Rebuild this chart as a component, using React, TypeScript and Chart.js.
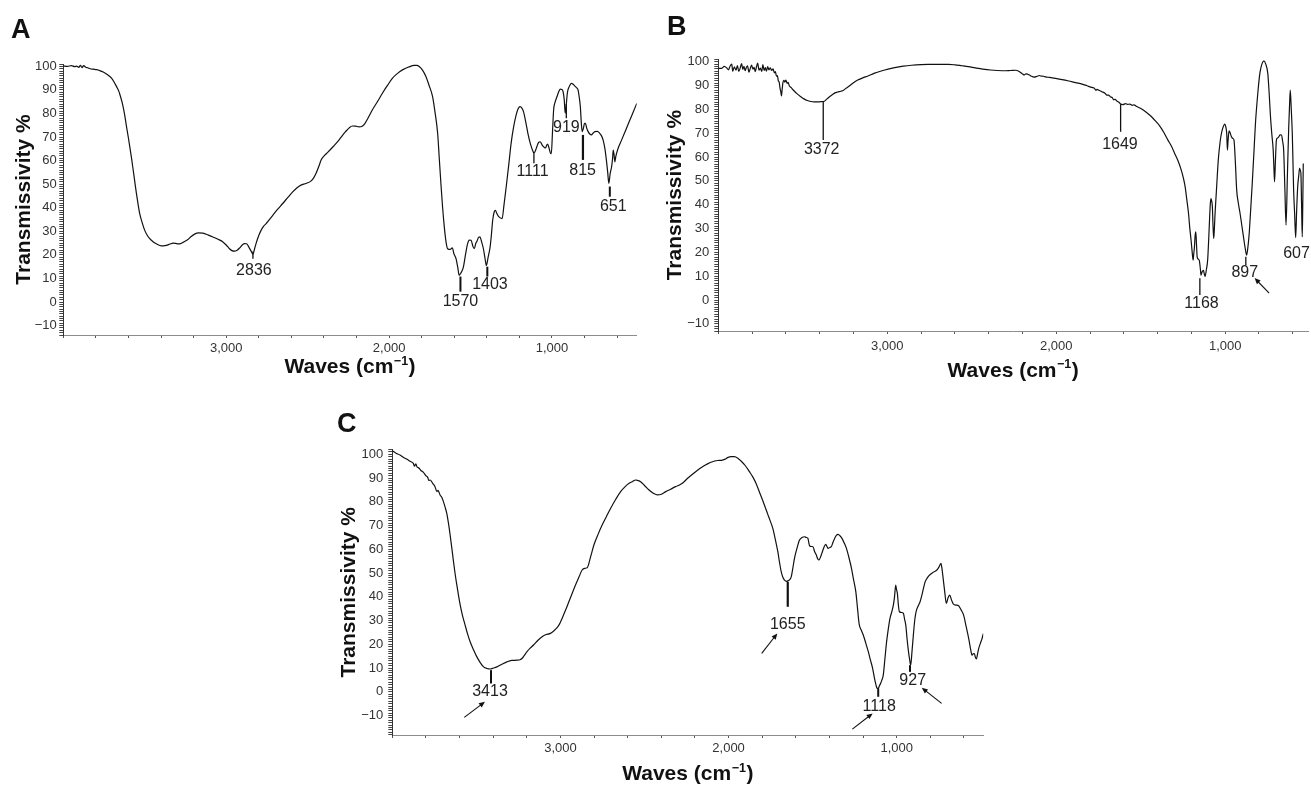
import React, { useEffect, useRef } from 'react';
import { Chart, registerables } from 'chart.js';

Chart.register(...registerables);

const FONT = '"Liberation Sans", Arial, Helvetica, sans-serif';

// ---------- Spectrum A: [wavenumber cm-1, transmissivity %] ----------
const aSpectrum: [number, number][] = [
  [4000, 100.2], [3975, 100.0], [3950, 100.3], [3930, 99.9], [3918, 100.1], [3905, 99.6],
  [3895, 100.4], [3885, 99.5], [3875, 100.3], [3862, 99.6], [3850, 99.4], [3835, 99.0],
  [3816, 98.8], [3795, 98.6], [3776, 98.2], [3755, 97.6], [3735, 96.8], [3720, 96.0],
  [3704, 95.0], [3690, 93.6], [3673, 91.4], [3660, 89.6], [3649, 87.2], [3640, 85.0],
  [3629, 81.5], [3620, 78.0], [3612, 74.4], [3600, 69.5], [3592, 65.9], [3580, 60.5],
  [3571, 56], [3561, 51], [3551, 46], [3541, 41.5], [3531, 37.5], [3515, 33.5],
  [3500, 30.4], [3480, 27.8], [3459, 26.2], [3435, 24.9], [3408, 24.0], [3385, 23.8],
  [3367, 24.0], [3345, 24.6], [3327, 25.0], [3310, 24.9], [3296, 24.7], [3280, 24.8],
  [3265, 25.3], [3250, 25.9], [3235, 26.5], [3215, 27.8], [3194, 28.8], [3170, 29.3],
  [3143, 29.2], [3110, 28.4], [3082, 27.6], [3050, 26.6], [3020, 25.5], [3000, 24.2],
  [2980, 22.6], [2965, 21.8], [2949, 21.6], [2933, 22.0], [2918, 22.9], [2900, 24.3],
  [2888, 24.8], [2875, 24.7], [2860, 23.2], [2847, 21.6], [2836, 20.3], [2825, 22.8],
  [2816, 25.0], [2800, 28.2], [2786, 30.4], [2770, 32.2], [2755, 33.3], [2735, 35.0],
  [2714, 36.8], [2685, 39.3], [2653, 41.8], [2620, 44.5], [2592, 46.7], [2565, 48.5],
  [2541, 49.6], [2510, 50.3], [2480, 51.3], [2462, 52.8], [2449, 54.5], [2430, 57.8],
  [2418, 60.2], [2395, 62.3], [2377, 63.5], [2340, 66.2], [2308, 68.7], [2285, 70.8],
  [2267, 72.3], [2245, 73.9], [2226, 74.7], [2205, 74.6], [2185, 74.3], [2165, 74.6],
  [2150, 75.6], [2130, 78.0], [2103, 81.5], [2070, 85.2], [2041, 88.6], [2010, 91.9],
  [1979, 95.0], [1950, 96.9], [1918, 98.5], [1880, 99.7], [1846, 100.4], [1830, 100.4],
  [1815, 99.9], [1795, 98.4], [1774, 95.7], [1755, 92.0], [1733, 87.2], [1718, 80.5],
  [1702, 71.6], [1692, 61.0], [1682, 50.3], [1672, 40.5], [1661, 31.8], [1650, 25.3],
  [1641, 22.6], [1625, 22.3], [1612, 23.0], [1602, 20.5], [1589, 18.4], [1578, 14.5],
  [1570, 11.3], [1560, 12.2], [1544, 14.8], [1530, 20.5], [1518, 24.8], [1507, 26.3],
  [1497, 26.2], [1485, 23.5], [1477, 22.6], [1468, 24.8], [1460, 25.9], [1450, 27.5],
  [1442, 27.6], [1432, 25.5], [1421, 22.6], [1410, 18.0], [1403, 15.5], [1392, 19.0],
  [1380, 23.3], [1372, 28.5], [1364, 34.7], [1355, 38.2], [1347, 38.9], [1340, 37.8],
  [1333, 36.8], [1320, 35.8], [1306, 35.4], [1295, 41.0], [1281, 48.9], [1265, 58.5],
  [1251, 67.3], [1235, 74.5], [1220, 79.4], [1208, 82.0], [1195, 82.9], [1185, 82.3],
  [1175, 80.8], [1160, 76.0], [1148, 71.6], [1132, 67.0], [1117, 64.0], [1111, 63.2],
  [1100, 64.5], [1093, 65.9], [1083, 67.6], [1072, 68.0], [1062, 66.8], [1052, 65.9],
  [1045, 65.5], [1039, 65.4], [1033, 66.5], [1027, 67.0], [1021, 66.0], [1015, 64.5],
  [1008, 63.0], [1004, 63.0], [997, 72.0], [990, 81.5], [980, 85.0], [969, 87.2],
  [958, 89.3], [949, 90.3], [940, 90.2], [932, 89.3], [925, 86.0], [919, 80.1],
  [912, 84.0], [906, 88.5], [902, 90.0], [890, 92.0], [881, 92.8], [870, 92.4],
  [861, 91.7], [850, 91.0], [840, 90.0], [833, 87.0], [826, 82.9], [820, 76.0],
  [815, 72.3], [808, 73.5], [800, 75.8], [795, 75.8], [787, 73.8], [778, 72.3],
  [768, 71.3], [758, 70.9], [748, 71.6], [737, 72.3], [722, 72.4], [707, 71.6],
  [696, 70.5], [686, 68.7], [675, 65.0], [666, 60.2], [658, 55.0], [651, 50.3],
  [643, 54.5], [634, 57.4], [628, 61.0], [624, 64.5], [619, 62.5], [614, 59.5],
  [609, 61.5], [604, 63.0], [590, 66.0], [573, 68.7], [550, 72.5], [522, 77.2],
  [500, 80.8], [480, 84.3],
];

// ---------- Spectrum B ----------
const bSpectrum: [number, number][] = [
  [4000, 97.2], [3980, 97.2], [3965, 98.0], [3950, 97.4], [3940, 96.6], [3930, 98.2],
  [3920, 99.0], [3915, 96.0], [3905, 97.8], [3895, 96.4], [3887, 98.4], [3879, 95.9],
  [3871, 97.2], [3862, 99.2], [3855, 96.8], [3848, 98.0], [3841, 96.2], [3834, 97.6],
  [3827, 98.3], [3819, 95.6], [3811, 97.1], [3803, 98.6], [3795, 96.9], [3788, 97.6],
  [3781, 95.8], [3774, 97.9], [3767, 99.4], [3759, 96.4], [3751, 97.3], [3743, 95.9],
  [3736, 98.8], [3729, 96.3], [3722, 97.5], [3715, 96.0], [3708, 97.9], [3700, 96.6],
  [3692, 97.4], [3684, 96.3], [3676, 97.0], [3668, 95.3], [3662, 95.8], [3656, 93.9],
  [3650, 94.2], [3645, 92.0], [3640, 91.5], [3635, 89.0], [3630, 87.3], [3626, 85.6],
  [3622, 88.5], [3618, 91.0], [3612, 92.2], [3606, 91.4], [3600, 92.3], [3593, 90.9],
  [3587, 91.3], [3580, 89.9], [3570, 89.2], [3555, 88.0], [3533, 86.5], [3513, 85.4],
  [3493, 84.4], [3473, 83.7], [3453, 83.3], [3434, 83.1], [3414, 83.1], [3394, 83.2],
  [3372, 83.4], [3360, 84.2], [3345, 85.1], [3324, 86.2], [3310, 86.9], [3294, 87.3],
  [3275, 87.6], [3259, 88.0], [3245, 88.8], [3225, 89.8], [3200, 91.2], [3175, 92.3],
  [3145, 93.2], [3115, 94.0], [3075, 95.2], [3036, 96.1], [2995, 96.9], [2956, 97.5],
  [2905, 98.1], [2857, 98.5], [2800, 98.8], [2758, 98.9], [2700, 98.9], [2638, 98.9],
  [2600, 98.7], [2559, 98.3], [2520, 97.9], [2479, 97.4], [2435, 96.9], [2390, 96.5],
  [2317, 96.2], [2270, 96.3], [2239, 96.4], [2222, 96.0], [2209, 95.4], [2198, 94.8],
  [2190, 94.4], [2180, 94.9], [2170, 94.8], [2150, 94.0], [2131, 93.5], [2115, 93.8],
  [2100, 94.2], [2092, 94.0], [2075, 93.9], [2063, 93.6], [2040, 93.4], [2004, 93.0],
  [1965, 92.5], [1926, 91.9], [1885, 91.2], [1847, 90.6], [1818, 89.9], [1789, 89.2],
  [1775, 88.9], [1765, 88.0], [1759, 88.4], [1745, 87.9], [1730, 87.4], [1712, 86.8],
  [1700, 86.0], [1691, 86.0], [1680, 85.3], [1668, 84.9], [1660, 84.0], [1652, 84.2],
  [1640, 83.4], [1628, 82.9], [1619, 82.2], [1605, 82.0], [1590, 82.4], [1578, 82.1],
  [1564, 82.2], [1550, 81.7], [1540, 81.9], [1524, 81.2], [1505, 80.6], [1485, 79.7],
  [1460, 78.4], [1436, 76.9], [1412, 75.1], [1387, 73.0], [1363, 70.3], [1339, 67.1],
  [1318, 64.5], [1299, 61.5], [1280, 58.5], [1260, 54.5], [1247, 51.0], [1237, 47.5],
  [1227, 42.0], [1217, 36.3], [1210, 30.5], [1202, 25.1], [1196, 20.5], [1190, 16.7],
  [1186, 19.5], [1182, 22.3], [1178, 27.0], [1174, 28.6], [1170, 23.5], [1166, 18.1],
  [1160, 17.2], [1153, 16.5], [1147, 13.0], [1143, 10.4], [1136, 12.0], [1129, 12.5],
  [1124, 11.0], [1119, 9.9], [1112, 12.5], [1104, 16.7], [1098, 25.0], [1092, 34.9],
  [1088, 40.5], [1084, 42.6], [1080, 41.5], [1076, 39.1], [1072, 31.0], [1068, 25.8],
  [1064, 30.0], [1061, 34.9], [1057, 40.0], [1053, 44.7], [1047, 52.0], [1041, 58.7],
  [1034, 64.0], [1026, 68.5], [1015, 72.0], [1002, 73.8], [996, 72.5], [991, 69.9],
  [987, 62.9], [983, 67.0], [977, 71.0], [970, 70.0], [963, 68.5], [955, 67.8],
  [948, 67.1], [940, 58.0], [932, 46.1], [922, 40.5], [912, 36.3], [900, 30.5],
  [889, 25.1], [880, 21.0], [873, 18.8], [866, 22.0], [858, 27.9], [850, 37.0],
  [840, 48.9], [830, 62.0], [821, 74.1], [808, 86.0], [795, 95.1], [783, 99.0],
  [771, 100.3], [760, 99.0], [748, 95.1], [740, 87.0], [732, 76.9], [724, 69.5],
  [716, 62.9], [712, 56.0], [708, 49.6], [703, 58.0], [697, 67.1], [690, 68.0],
  [683, 68.5], [675, 69.3], [667, 69.2], [660, 66.5], [654, 62.9], [647, 47.0],
  [640, 31.4], [632, 52.0], [624, 72.7], [619, 82.0], [615, 88.1], [609, 80.0],
  [603, 69.9], [599, 58.0], [595, 46.1], [589, 36.0], [583, 26.2], [577, 38.0],
  [571, 47.5], [565, 52.0], [560, 55.2], [556, 54.5], [552, 53.1], [548, 40.0],
  [544, 26.5], [541, 40.0], [538, 57.3],
];

// ---------- Spectrum C ----------
const cSpectrum: [number, number][] = [
  [4000, 101.5], [3980, 100.6], [3954, 99.7], [3935, 98.8], [3915, 98.0], [3895, 97.1],
  [3875, 96.2], [3868, 95.0], [3860, 96.0], [3852, 94.6], [3845, 94.4], [3830, 93.2],
  [3815, 92.4], [3800, 91.0], [3790, 90.4], [3783, 89.0], [3775, 89.2], [3760, 87.8],
  [3746, 86.4], [3735, 84.3], [3728, 84.8], [3716, 82.9], [3705, 81.8], [3696, 80.1],
  [3686, 77.8], [3676, 75.1], [3666, 71.0], [3656, 66.0], [3646, 60.5], [3636, 54.8],
  [3626, 49.5], [3616, 44.9], [3606, 40.5], [3596, 36.5], [3582, 32.0], [3567, 28.1],
  [3552, 24.3], [3537, 21.1], [3517, 17.7], [3497, 14.7], [3477, 12.3], [3457, 10.5],
  [3437, 9.8], [3418, 9.6], [3398, 10.0], [3378, 10.5], [3348, 11.6], [3318, 12.6],
  [3290, 13.2], [3259, 13.3], [3240, 13.5], [3229, 14.0], [3215, 15.3], [3199, 16.9],
  [3180, 18.4], [3160, 19.7], [3135, 21.6], [3109, 23.2], [3085, 24.1], [3060, 24.6],
  [3040, 25.6], [3020, 27.0], [3005, 28.6], [2990, 30.9], [2970, 34.3], [2950, 37.9],
  [2930, 41.5], [2911, 44.9], [2890, 48.3], [2871, 51.3], [2855, 52.0], [2841, 52.2],
  [2820, 57.0], [2801, 61.8], [2775, 66.5], [2752, 70.2], [2725, 74.0], [2702, 77.2],
  [2670, 81.2], [2642, 84.3], [2615, 86.4], [2592, 87.8], [2570, 88.6], [2553, 89.2],
  [2540, 89.0], [2523, 88.5], [2500, 86.9], [2473, 85.0], [2445, 83.5], [2423, 82.9],
  [2400, 83.2], [2374, 84.3], [2345, 85.3], [2315, 86.4], [2295, 87.0], [2275, 87.8],
  [2245, 89.8], [2215, 91.6], [2185, 93.3], [2155, 94.8], [2125, 96.0], [2096, 96.9],
  [2066, 97.4], [2036, 97.6], [2020, 98.0], [2006, 98.6], [1985, 99.0], [1966, 99.0],
  [1945, 98.4], [1926, 97.2], [1900, 95.2], [1876, 92.7], [1856, 90.5], [1837, 87.8],
  [1812, 83.3], [1787, 78.7], [1762, 73.8], [1737, 68.8], [1722, 64.2], [1707, 59.0],
  [1697, 54.5], [1687, 50.6], [1677, 48.2], [1667, 47.0], [1655, 46.5], [1647, 46.7],
  [1637, 47.2], [1627, 48.5], [1618, 52.0], [1608, 56.2], [1593, 60.5], [1578, 63.9],
  [1563, 65.0], [1548, 65.3], [1538, 65.0], [1528, 64.6], [1522, 62.5], [1518, 61.5],
  [1508, 61.2], [1498, 61.1], [1488, 59.0], [1478, 57.6], [1470, 56.0], [1462, 55.5],
  [1452, 57.0], [1442, 59.0], [1432, 61.0], [1422, 62.1], [1415, 61.2], [1408, 60.4],
  [1398, 60.8], [1389, 61.1], [1379, 63.0], [1369, 64.6], [1359, 65.9], [1349, 66.3],
  [1336, 65.6], [1323, 64.3], [1311, 62.5], [1299, 60.4], [1284, 56.5], [1269, 52.0],
  [1256, 47.0], [1243, 42.1], [1233, 35.0], [1223, 28.4], [1211, 26.0], [1199, 23.9],
  [1184, 20.5], [1169, 16.9], [1156, 13.3], [1143, 9.8], [1133, 6.0], [1124, 3.1],
  [1118, 1.6], [1110, 1.4], [1103, 2.5], [1096, 3.5], [1088, 5.0], [1080, 7.0],
  [1070, 14.0], [1060, 21.1], [1050, 26.5], [1040, 30.9], [1030, 33.5], [1020, 36.5],
  [1013, 40.0], [1006, 44.9], [1001, 43.0], [996, 41.4], [990, 36.5], [984, 33.7],
  [972, 33.4], [960, 33.0], [953, 30.5], [946, 28.1], [938, 22.0], [930, 16.9],
  [923, 13.5], [917, 11.2], [909, 17.0], [901, 23.9], [893, 30.0], [885, 33.7],
  [873, 36.0], [861, 37.9], [846, 42.0], [831, 46.3], [816, 48.2], [801, 49.4],
  [781, 50.4], [761, 51.3], [749, 52.5], [737, 54.1], [731, 52.0], [725, 48.5],
  [715, 42.5], [705, 37.2], [695, 39.5], [685, 40.7], [673, 38.5], [661, 36.8],
  [647, 36.5], [632, 36.2], [617, 34.5], [602, 32.3], [587, 27.5], [572, 22.5],
  [562, 18.5], [552, 15.4], [545, 16.0], [538, 16.1], [532, 14.5], [526, 13.8],
  [519, 16.0], [512, 18.3], [502, 20.5], [492, 22.5], [485, 24.5],
];

// ---------- Peak annotations: text, marker wavenumber, marker from/to %T, label wavenumber/%T ----------
type Peak = { text: string; x: number; y1: number; y2: number; lx: number; ly: number; w?: number };
type Arrow = [number, number, number, number]; // fromX, fromY, toX, toY (data units)

const aPeaks: Peak[] = [
  { text: '2836', x: 2836, y1: 21.4, y2: 18.4, lx: 2830, ly: 13.4 },
  { text: '1570', x: 1562, y1: 10.8, y2: 4.4, lx: 1562, ly: 0.2, w: 2 },
  { text: '1403', x: 1397, y1: 15.0, y2: 10.8, lx: 1381, ly: 7.5, w: 2 },
  { text: '1111', x: 1111, y1: 63.1, y2: 58.9, lx: 1119, ly: 55.3 },
  { text: '919', x: 912, y1: 84.0, y2: 78.0, lx: 912, ly: 74.0 },
  { text: '815', x: 810, y1: 70.9, y2: 60.3, lx: 812, ly: 55.7, w: 2.2 },
  { text: '651', x: 645, y1: 49.0, y2: 44.7, lx: 624, ly: 40.5, w: 2 },
];
const aArrows: Arrow[] = [];

const bPeaks: Peak[] = [
  { text: '3372', x: 3379, y1: 83.5, y2: 67.1, lx: 3388, ly: 63.2 },
  { text: '1649', x: 1619, y1: 82.2, y2: 70.6, lx: 1623, ly: 65.3 },
  { text: '1168', x: 1150, y1: 9.1, y2: 2.1, lx: 1140, ly: -1.4 },
  { text: '897', x: 878, y1: 18.2, y2: 14.7, lx: 884, ly: 11.5 },
  { text: '607', x: 578, y1: 19.3, y2: 19.3, lx: 578, ly: 19.3, w: 0 },
];
const bArrows: Arrow[] = [[740, 2.9, 826, 9.2]];

const cPeaks: Peak[] = [
  { text: '3413', x: 3413, y1: 9.1, y2: 3.5, lx: 3419, ly: 0, w: 2 },
  { text: '1655', x: 1648, y1: 46.3, y2: 35.8, lx: 1648, ly: 28.4, w: 2.2 },
  { text: '1118', x: 1110, y1: 1.4, y2: -2.1, lx: 1104, ly: -6.3, w: 2 },
  { text: '927', x: 921, y1: 11.2, y2: 8.4, lx: 905, ly: 4.6, w: 2 },
];
const cArrows: Arrow[] = [
  [3572, -10.8, 3449, -4.2],
  [1803, 16.2, 1710, 24.6],
  [1264, -15.7, 1143, -9.1],
  [733, -4.9, 851, 1.7],
];

type PanelCfg = {
  letter: string;
  data: [number, number][];
  peaks: Peak[];
  arrows: Arrow[];
  left: number; top: number; width: number; height: number;
  xMin: number; yMin: number; yMax: number;
  padTop: number; padRight: number; yAxisW: number; xAxisH: number;
  yTitlePad: number; yTickPad: number; xTickPad: number; xTitleY: number;
  letterX: number; letterY: number;
};

const panels: PanelCfg[] = [
  {
    letter: 'A', data: aSpectrum, peaks: aPeaks, arrows: aArrows,
    left: 0, top: 0, width: 650, height: 385,
    xMin: 480, yMin: -14, yMax: 101,
    padTop: 64, padRight: 13.3, yAxisW: 63.3, xAxisH: 50,
    yTitlePad: 11.4, yTickPad: 2.6, xTickPad: 2.5, xTitleY: 365.5,
    letterX: 11, letterY: 38,
  },
  {
    letter: 'B', data: bSpectrum, peaks: bPeaks, arrows: bArrows,
    left: 655, top: 0, width: 656, height: 385,
    xMin: 510, yMin: -13, yMax: 101,
    padTop: 59.3, padRight: 3, yAxisW: 63.3, xAxisH: 54,
    yTitlePad: 7.9, yTickPad: 5, xTickPad: 4.9, xTitleY: 369,
    letterX: 12, letterY: 35,
  },
  {
    letter: 'C', data: cSpectrum, peaks: cPeaks, arrows: cArrows,
    left: 320, top: 390, width: 680, height: 395,
    xMin: 485, yMin: -18.2, yMax: 102,
    padTop: 59.6, padRight: 16.7, yAxisW: 72.3, xAxisH: 50,
    yTitlePad: 16.4, yTickPad: 5, xTickPad: 2.5, xTitleY: 382.5,
    letterX: 17, letterY: 41.7,
  },
];

function makePlugin(cfg: PanelCfg) {
  return {
    id: 'notes' + cfg.letter,
    afterDatasetsDraw(chart: any) {
      const { ctx, chartArea } = chart;
      const xs = chart.scales.x;
      const ys = chart.scales.y;
      ctx.save();
      ctx.strokeStyle = '#111';
      ctx.fillStyle = '#222';
      // peak markers + labels
      for (const p of cfg.peaks) {
        const px = xs.getPixelForValue(p.x);
        const w = p.w === undefined ? 1.3 : p.w;
        if (w > 0) {
          ctx.lineWidth = w;
          ctx.beginPath();
          ctx.moveTo(px, ys.getPixelForValue(p.y1));
          ctx.lineTo(px, ys.getPixelForValue(p.y2));
          ctx.stroke();
        }
        ctx.font = `16px ${FONT}`;
        ctx.textAlign = 'center';
        ctx.textBaseline = 'middle';
        ctx.fillText(p.text, xs.getPixelForValue(p.lx), ys.getPixelForValue(p.ly));
      }
      // arrows
      for (const a of cfg.arrows) {
        const x1 = xs.getPixelForValue(a[0]);
        const y1 = ys.getPixelForValue(a[1]);
        const x2 = xs.getPixelForValue(a[2]);
        const y2 = ys.getPixelForValue(a[3]);
        const ang = Math.atan2(y2 - y1, x2 - x1);
        ctx.lineWidth = 1.1;
        ctx.beginPath();
        ctx.moveTo(x1, y1);
        ctx.lineTo(x2 - 3 * Math.cos(ang), y2 - 3 * Math.sin(ang));
        ctx.stroke();
        const L = 6, W = 2.6;
        ctx.beginPath();
        ctx.moveTo(x2, y2);
        ctx.lineTo(x2 - L * Math.cos(ang) + W * Math.sin(ang), y2 - L * Math.sin(ang) - W * Math.cos(ang));
        ctx.lineTo(x2 - L * Math.cos(ang) - W * Math.sin(ang), y2 - L * Math.sin(ang) + W * Math.cos(ang));
        ctx.closePath();
        ctx.fillStyle = '#111';
        ctx.fill();
        ctx.fillStyle = '#222';
      }
      // x axis title with superscript
      const cx = (chartArea.left + chartArea.right) / 2;
      const big = `bold 21px ${FONT}`;
      const small = `bold 12.5px ${FONT}`;
      ctx.font = big;
      const w1 = ctx.measureText('Waves (cm').width;
      const w3 = ctx.measureText(')').width;
      ctx.font = small;
      const w2 = ctx.measureText('\u22121').width;
      const total = w1 + w2 + w3 + 1;
      const x0 = cx - total / 2;
      ctx.fillStyle = '#111';
      ctx.textAlign = 'left';
      ctx.textBaseline = 'alphabetic';
      const base = cfg.xTitleY + 7.5;
      ctx.font = big;
      ctx.fillText('Waves (cm', x0, base);
      ctx.font = small;
      ctx.fillText('\u22121', x0 + w1 + 0.5, base - 8.5);
      ctx.font = big;
      ctx.fillText(')', x0 + w1 + w2 + 1, base);
      // panel letter
      ctx.font = `bold 27px ${FONT}`;
      ctx.fillText(cfg.letter, cfg.letterX, cfg.letterY);
      ctx.restore();
    },
  };
}

function Panel({ cfg }: { cfg: PanelCfg }) {
  const ref = useRef<HTMLCanvasElement | null>(null);
  useEffect(() => {
    if (!ref.current) return;
    const chart = new Chart(ref.current, {
      type: 'line',
      data: {
        datasets: [
          {
            data: cfg.data.map(([x, y]) => ({ x, y })),
            borderColor: '#111',
            borderWidth: 1.2,
            pointRadius: 0,
            fill: false,
            cubicInterpolationMode: 'monotone',
          },
        ],
      },
      options: {
        animation: false,
        responsive: false,
        devicePixelRatio: 1,
        layout: { padding: { top: cfg.padTop, right: cfg.padRight, left: 0, bottom: 0 } },
        plugins: { legend: { display: false }, tooltip: { enabled: false } },
        scales: {
          x: {
            type: 'linear',
            reverse: true,
            min: cfg.xMin,
            max: 4000,
            border: { display: true, color: '#8c8c8c', width: 1 },
            grid: { display: true, drawOnChartArea: false, drawTicks: true, tickLength: 3, color: '#555' },
            ticks: {
              stepSize: 200,
              autoSkip: false,
              includeBounds: false,
              maxRotation: 0,
              minRotation: 0,
              padding: cfg.xTickPad,
              color: '#333',
              font: { family: FONT, size: 13 },
              callback: (v: any) => {
                const n = Number(v);
                return n % 1000 === 0 && n < 4000 ? n.toLocaleString('en-US') : '';
              },
            },
            title: { display: false },
            afterFit: (s: any) => { s.height = cfg.xAxisH; },
          },
          y: {
            type: 'linear',
            min: cfg.yMin,
            max: cfg.yMax,
            border: { display: true, color: '#333', width: 1 },
            grid: { display: true, drawOnChartArea: false, drawTicks: true, tickLength: 4, color: '#444' },
            ticks: {
              stepSize: 1,
              autoSkip: false,
              includeBounds: false,
              padding: cfg.yTickPad,
              color: '#333',
              font: { family: FONT, size: 13 },
              callback: (v: any) => {
                const n = Math.round(Number(v));
                if (Math.abs(Number(v) - n) > 1e-6 || n % 10 !== 0 || n > 100) return '';
                return n < 0 ? '\u2212' + Math.abs(n) : String(n);
              },
            },
            title: {
              display: true,
              text: 'Transmissivity %',
              color: '#111',
              font: { family: FONT, size: 21, weight: 'bold' },
              padding: { top: cfg.yTitlePad, bottom: 0 },
            },
            afterFit: (s: any) => { s.width = cfg.yAxisW; },
          },
        },
      } as any,
      plugins: [makePlugin(cfg)],
    } as any);
    return () => chart.destroy();
  }, [cfg]);
  return (
    <canvas
      ref={ref}
      width={cfg.width}
      height={cfg.height}
      style={{ position: 'absolute', left: cfg.left, top: cfg.top, width: cfg.width, height: cfg.height }}
    />
  );
}

export default function App() {
  return (
    <div style={{ position: 'absolute', left: 0, top: 0, width: 1311, height: 785, background: '#fff', overflow: 'hidden' }}>
      {panels.map((p) => (
        <Panel key={p.letter} cfg={p} />
      ))}
    </div>
  );
}
